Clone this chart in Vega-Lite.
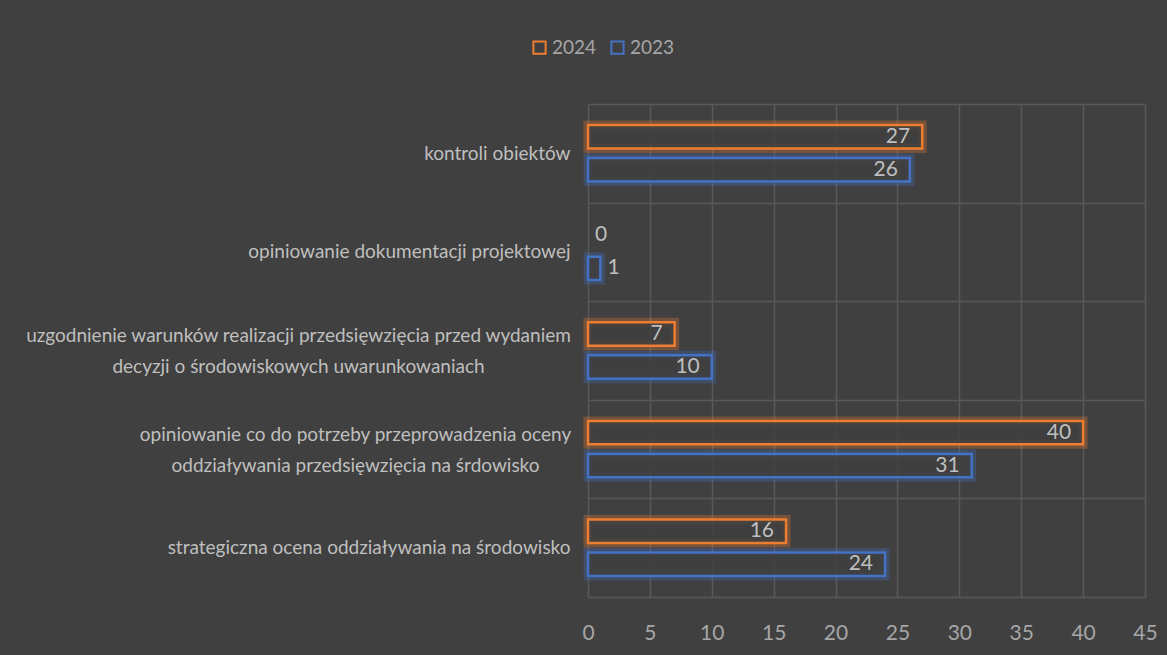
{
  "$schema": "https://vega.github.io/schema/vega-lite/v6.json",
  "autosize": {"type": "none"},
  "width": 557,
  "height": 493,
  "padding": {"left": 588, "top": 104, "right": 22, "bottom": 58},
  "background": "#404040",
  "config": {
    "view": {"stroke": null},
    "font": "Lato",
    "axis": {"labelFont": "Lato", "gridColor": "#595959", "gridWidth": 1.5, "domain": false, "ticks": false},
    "legend": {"labelFont": "Lato"}
  },
  "data": {
    "values": [
      {"kategoria": "kontroli obiektów", "rok": "2024", "wartosc": 27},
      {"kategoria": "kontroli obiektów", "rok": "2023", "wartosc": 26},
      {"kategoria": "opiniowanie dokumentacji projektowej", "rok": "2024", "wartosc": 0},
      {"kategoria": "opiniowanie dokumentacji projektowej", "rok": "2023", "wartosc": 1},
      {"kategoria": "uzgodnienie warunków realizacji", "rok": "2024", "wartosc": 7},
      {"kategoria": "uzgodnienie warunków realizacji", "rok": "2023", "wartosc": 10},
      {"kategoria": "opiniowanie co do potrzeby", "rok": "2024", "wartosc": 40},
      {"kategoria": "opiniowanie co do potrzeby", "rok": "2023", "wartosc": 31},
      {"kategoria": "strategiczna ocena oddziaływania na środowisko", "rok": "2024", "wartosc": 16},
      {"kategoria": "strategiczna ocena oddziaływania na środowisko", "rok": "2023", "wartosc": 24}
    ]
  },
  "encoding": {
    "y": {
      "field": "kategoria",
      "type": "nominal",
      "sort": null,
      "scale": {"paddingInner": 0, "paddingOuter": 0},
      "axis": {
        "title": null,
        "grid": true,
        "tickBand": "extent",
        "labelFontSize": 19,
        "labelColor": "#bfbfbf",
        "labelLimit": 700,
        "labelLineHeight": 31,
        "labelAlign": {"condition": {"test": "datum.value == 'uzgodnienie warunków realizacji' || datum.value == 'opiniowanie co do potrzeby'", "value": "center"}, "value": "right"},
        "labelPadding": {"condition": [{"test": "datum.value == 'uzgodnienie warunków realizacji'", "value": 290}, {"test": "datum.value == 'opiniowanie co do potrzeby'", "value": 233}], "value": 18},
        "labelOffset": {"condition": {"test": "datum.value == 'uzgodnienie warunków realizacji' || datum.value == 'opiniowanie co do potrzeby'", "value": -15}, "value": 0},
        "labelExpr": "datum.value == 'uzgodnienie warunków realizacji' ? ['uzgodnienie warunków realizacji przedsięwzięcia przed wydaniem', 'decyzji o środowiskowych uwarunkowaniach'] : datum.value == 'opiniowanie co do potrzeby' ? ['opiniowanie co do potrzeby przeprowadzenia oceny', 'oddziaływania przedsięwzięcia na śrdowisko'] : datum.value"
      }
    },
    "yOffset": {
      "field": "rok",
      "type": "nominal",
      "sort": ["2024", "2023"],
      "scale": {"paddingInner": 0.29, "paddingOuter": 0.64}
    },
    "x": {
      "field": "wartosc",
      "type": "quantitative",
      "scale": {"domain": [0, 45], "nice": false},
      "axis": {
        "title": null,
        "values": [0, 5, 10, 15, 20, 25, 30, 35, 40, 45],
        "grid": true,
        "labelFlush": false,
        "labelFontSize": 21,
        "labelColor": "#a6a6a6",
        "labelPadding": 25
      }
    }
  },
  "layer": [
    {
      "transform": [{"filter": "datum.wartosc > 0"}],
      "mark": {"type": "bar", "fill": "#404040", "fillOpacity": 0, "strokeWidth": 9, "strokeOpacity": 0.3},
      "encoding": {
        "stroke": {"field": "rok", "type": "nominal", "scale": {"domain": ["2024", "2023"], "range": ["#ED7D31", "#4472C4"]}}
      }
    },
    {
      "transform": [{"filter": "datum.wartosc > 0"}],
      "mark": {"type": "bar", "fill": "#404040", "fillOpacity": 0.85, "strokeWidth": 2.5},
      "encoding": {
        "stroke": {
          "field": "rok",
          "type": "nominal",
          "scale": {"domain": ["2024", "2023"], "range": ["#ED7D31", "#4472C4"]},
          "legend": {
            "title": null,
            "orient": "none",
            "direction": "horizontal",
            "legendX": -58,
            "legendY": -66,
            "symbolType": "square",
            "symbolSize": 150,
            "symbolStrokeWidth": 2,
            "symbolFillColor": "transparent",
            "labelFontSize": 19,
            "labelColor": "#a6a6a6",
            "columnPadding": 10,
            "labelOffset": 3
          }
        }
      }
    },
    {
      "transform": [{"filter": "datum.wartosc >= 3"}],
      "mark": {"type": "text", "align": "right", "baseline": "middle", "dx": -12, "fontSize": 21, "color": "#bfbfbf", "font": "Lato"},
      "encoding": {"text": {"field": "wartosc", "type": "quantitative"}}
    },
    {
      "transform": [{"filter": "datum.wartosc < 3"}],
      "mark": {"type": "text", "align": "left", "baseline": "middle", "dx": 7, "fontSize": 21, "color": "#bfbfbf", "font": "Lato"},
      "encoding": {"text": {"field": "wartosc", "type": "quantitative"}}
    }
  ]
}
